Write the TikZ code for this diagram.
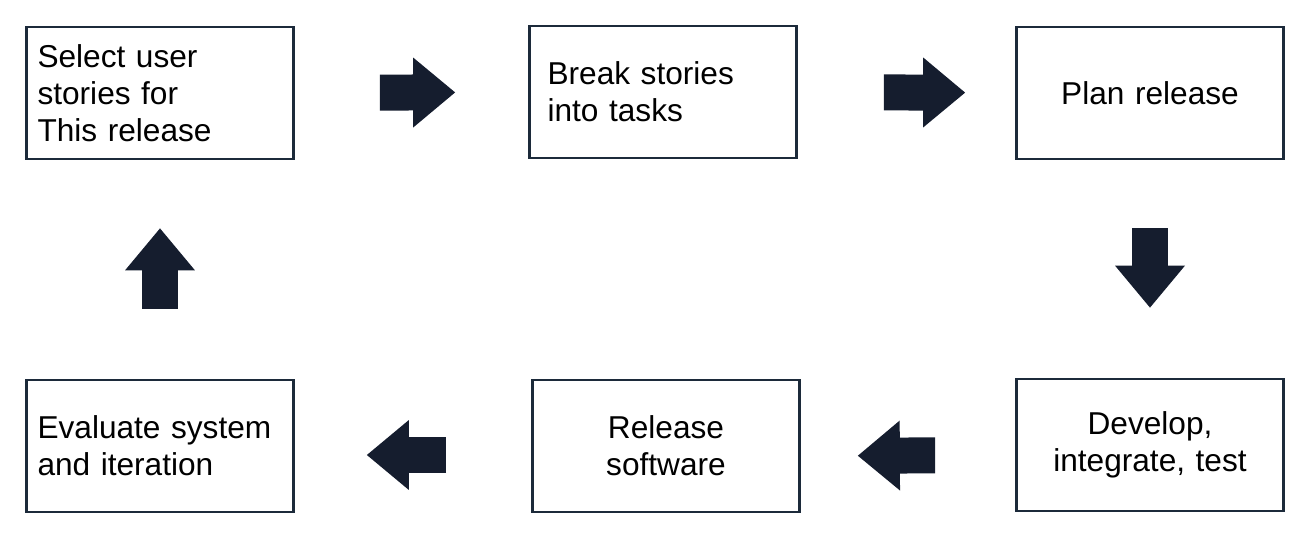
\documentclass[tikz,border=0pt]{standalone}
\usepackage{fontspec}
\setmainfont{Liberation Sans}
\usepackage{tikz}
\usetikzlibrary{positioning,arrows.meta}

\definecolor{inkbox}{HTML}{1C2A3A}
\definecolor{inkarr}{HTML}{151D2E}

\begin{document}
\begin{tikzpicture}[
  x=0.02cm, y=-0.02cm,
  font=\fontsize{18}{21}\selectfont,
  card/.style={draw=inkbox, line width=1.6pt, fill=white,
               minimum width=5.34cm, minimum height=2.64cm,
               text width=4.9cm, inner sep=0pt},
  blk/.style={inkarr, line width=0.72cm,
              -{Triangle[line width=0pt, length=0.84cm, width=1.4cm]}},
]
\useasboundingbox (0,0) rectangle (1306,544);

\node[card, align=left]   (select)  at (160,93)  {Select user\\stories for\\This release};
\node[card, align=left]   (break)   at (663,92)  {\hspace*{4pt}Break stories\\\hspace*{4pt}into tasks};
\node[card, align=center] (plan)    at (1150,93) {Plan release};
\node[card, align=center] (develop) at (1150,445) {Develop,\\integrate, test};
\node[card, align=center] (release) at (666,446) {Release\\software};
\node[card, align=left]   (evaluate) at (160,446) {Evaluate system\\and iteration};

% block arrows round the cycle
\draw[blk, shorten <=1.7cm, shorten >=1.46cm] (select) -- (break);
\draw[blk, shorten <=1.72cm, shorten >=1.0cm] (break) -- (plan);
\draw[blk, shorten <=1.36cm, shorten >=1.4cm] (plan.south) -- (develop.north);
\draw[blk, shorten <=1.6cm, shorten >=1.14cm]
  ([yshift=-0.2cm]develop.west) -- ([yshift=-0.2cm]release.east);
\draw[blk, shorten <=1.7cm, shorten >=1.44cm]
  ([yshift=-0.18cm]release.west) -- ([yshift=-0.18cm]evaluate.east);
\draw[blk, shorten <=1.4cm, shorten >=1.36cm] (evaluate.north) -- (select.south);
\end{tikzpicture}
\end{document}
